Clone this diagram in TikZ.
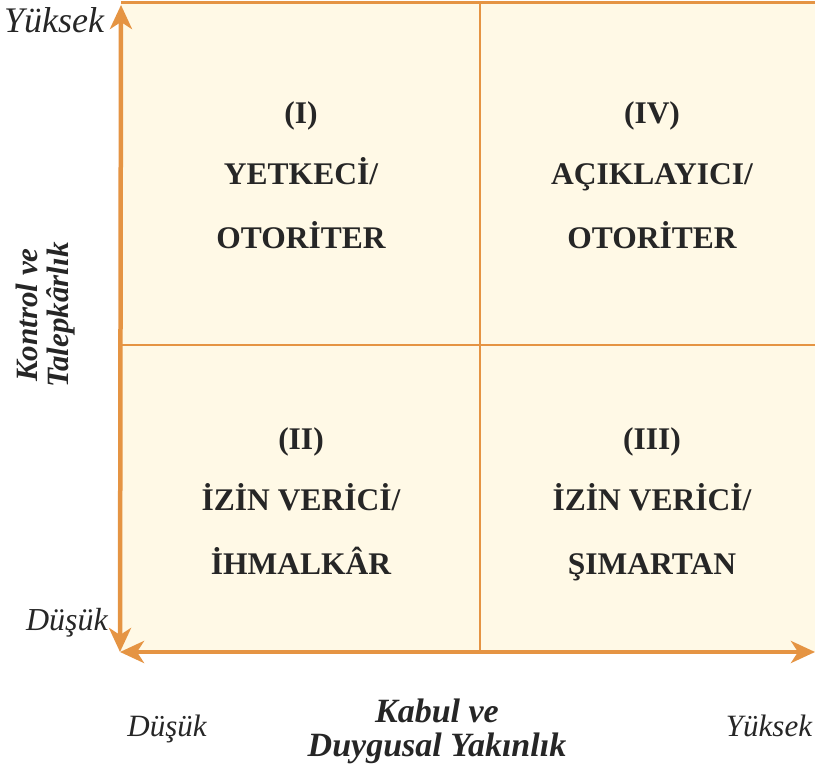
\documentclass[tikz,border=0pt]{standalone}
\usepackage{fontspec}
\setmainfont{Liberation Serif}
\usetikzlibrary{arrows.meta}
\definecolor{axisorange}{HTML}{E59443}
\definecolor{cellfill}{HTML}{FFF9E6}

\begin{document}
\begin{tikzpicture}
[x=1pt,y=1pt,
  quadlabel/.style={anchor=base,font=\bfseries\fontsize{31.5}{36}\selectfont,text=black!85},%
  levellabel/.style={anchor=base,font=\itshape\fontsize{#1}{#1}\selectfont,text=black!85},
  axistitle/.style={align=center,font=\bfseries\itshape\fontsize{#1}{#1}\selectfont,text=black!85},
  gridline/.style={draw=axisorange,line width=2.5pt},
  axisline/.style={draw=axisorange,line width=4.5pt,
    {Stealth[length=24pt,width=22pt,inset=7pt]}-{Stealth[length=24pt,width=22pt,inset=7pt]}}]
\useasboundingbox (0,0) rectangle (815,769);
%% corners and middle points
\coordinate (origin) at (120,117);
\coordinate (ytop) at (121,764);
\coordinate (xend) at (815,117);
\coordinate (topleft) at (121,766);
\coordinate (topright) at (815,766);
\coordinate (midtop) at (480,766);
\coordinate (midbottom) at (480,117);
\coordinate (midleft) at (121,424);
\coordinate (midright) at (815,424);
%% cells
\fill[cellfill] (121,117) rectangle (topright);
\draw[gridline,line width=3pt] (topleft) -- (topright);
\draw[gridline] (midtop) -- (midbottom);
\draw[gridline] (midleft) -- (midright);
%% quadrant texts
\foreach \nodename/\x/\y/\num/\first/\second in {
  one/301/645/I/YETKECİ/OTORİTER,
  four/652/645/IV/AÇIKLAYICI/OTORİTER,
  two/301/319/II/İZİN VERİCİ/İHMALKÂR,
  three/652/319/III/İZİN VERİCİ/ŞIMARTAN}
{
  \node (\nodename num) at (\x,\y) [quadlabel] {(\num)};
  \node (\nodename top) at (\x,\y-61) [quadlabel] {\first/};
  \node (\nodename bot) at (\x,\y-125) [quadlabel] {\second};
}
%% axes
\draw[axisline] (origin) -- (ytop);
\draw[axisline] (origin) -- (xend);
%% axis texts
\node (yhigh) at (54,736) [levellabel=36] {Yüksek};
\node (ylow) at (67,138) [levellabel=32] {Düşük};
\node (xlow) at (167,32) [levellabel=31] {Düşük};
\node (xhigh) at (769,32) [levellabel=31] {Yüksek};
\node (ytitle) at (46,454) [axistitle=31,rotate=90] {Kontrol ve\\Talepkârlık};
\node (xtitle) at (437,38) [axistitle=34] {Kabul ve\\Duygusal Yakınlık};
\end{tikzpicture}
\end{document}
